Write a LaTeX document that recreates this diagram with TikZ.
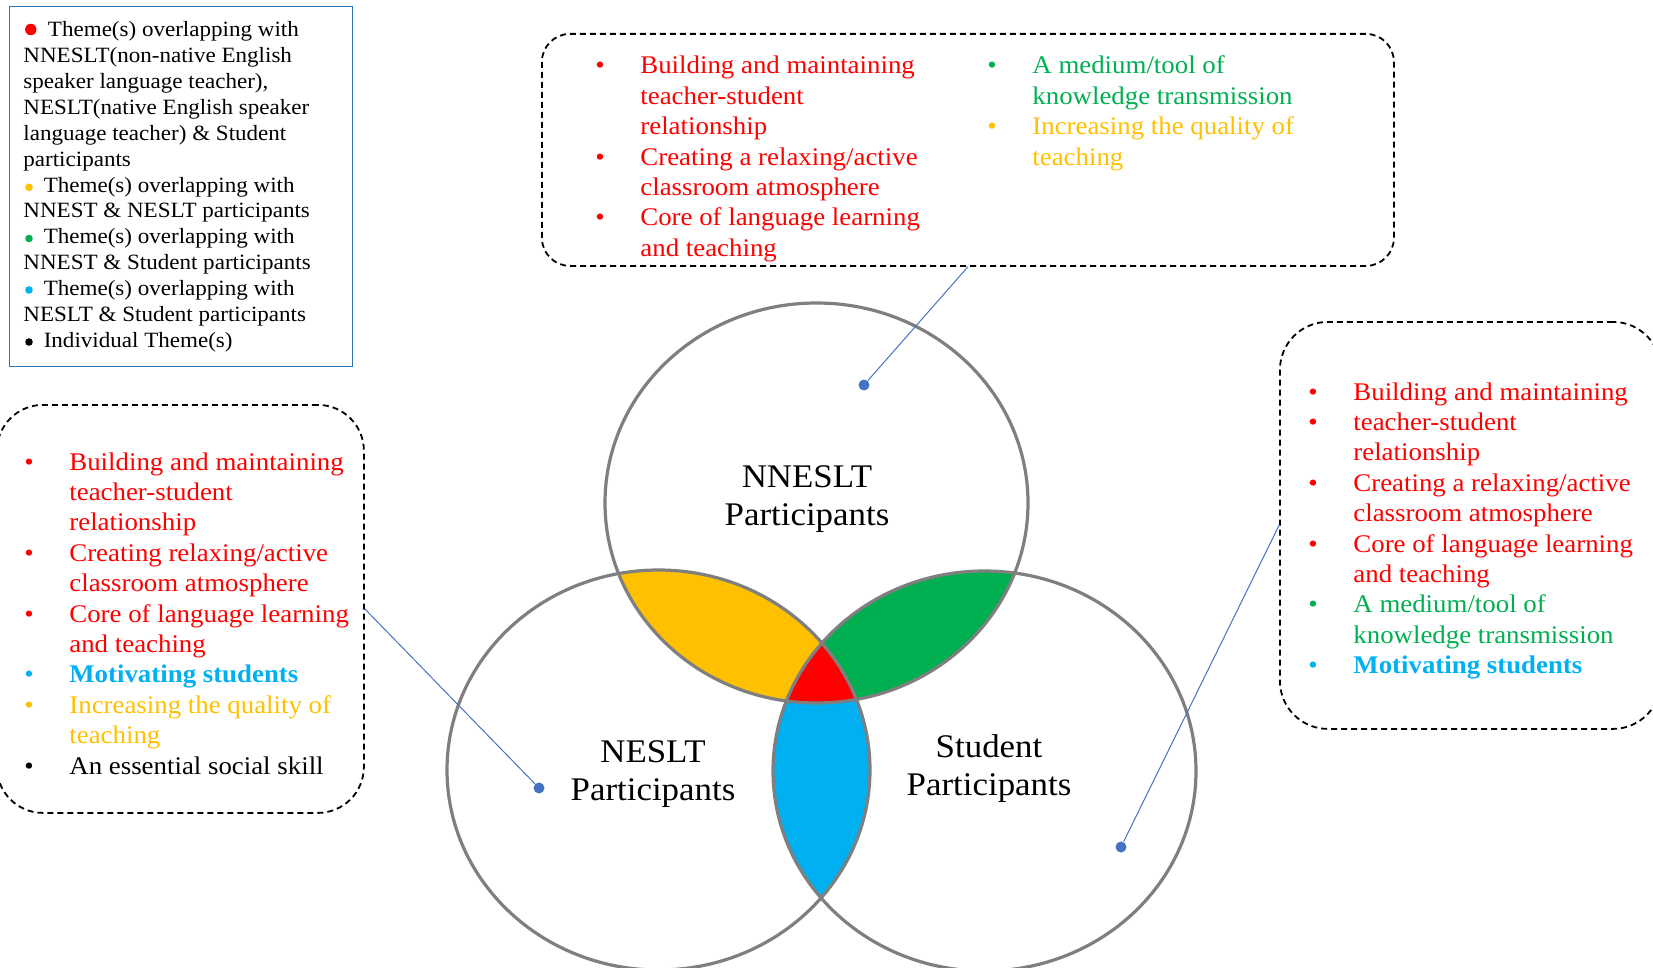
\documentclass[tikz,border=0pt]{standalone}
\usepackage{fontspec}
\setmainfont{Liberation Serif}[FakeStretch=1.057]

\definecolor{venngray}{HTML}{7F7F7F}
\definecolor{vyellow}{HTML}{FFC000}
\definecolor{vgreen}{HTML}{00B050}
\definecolor{vblue}{HTML}{00B0F0}
\definecolor{vred}{HTML}{FF0000}
\definecolor{linkblue}{HTML}{4472C4}
\definecolor{frameblue}{HTML}{2E75B6}

% puces des listes
\newlength\puce
\setlength\puce{22.5pt}
\newcommand\ligne[2]{\makebox[\puce][l]{\color{#1}\textbullet}{\color{#1}#2}}
\newcommand\suite[2]{\hspace*{\puce}{\color{#1}#2}}

\begin{document}
\begin{tikzpicture}[x=0.5pt, y=-0.5pt,
    venn/.style={draw=venngray, line width=1.6pt},
    dashbox/.style={draw, dashed, dash pattern=on 3pt off 2pt, line width=0.9pt, inner sep=0},
    legframe/.style={draw=frameblue, line width=0.7pt, inner sep=0},
    txt/.style={anchor=base west, inner sep=0, font=\fontsize{12.7}{15.2}\selectfont},
    lab/.style={anchor=base, inner sep=0, font=\fontsize{16.5}{19}\selectfont},
    dot/.style={circle, fill=linkblue, inner sep=0, minimum size=5.5pt},
    link/.style={draw=linkblue, line width=0.5pt}]
  % cadre de l'image (en pixels)
  \useasboundingbox (0,0) rectangle (1653,968);
  % les trois cercles (legerement aplatis)
  \def\topE{(816.5,503) ellipse [x radius=211.5, y radius=200]}
  \def\leftE{(658.5,770) ellipse [x radius=211.5, y radius=200]}
  \def\rightE{(984.5,771) ellipse [x radius=211.5, y radius=200]}
  % zones communes
  \begin{scope} \clip \topE; \fill[vyellow] \leftE; \end{scope}
  \begin{scope} \clip \topE; \fill[vgreen] \rightE; \end{scope}
  \begin{scope} \clip \leftE; \fill[vblue] \rightE; \end{scope}
  \begin{scope} \clip \topE; \clip \leftE; \fill[vred] \rightE; \end{scope}
  \draw[venn] \topE;
  \draw[venn] \leftE;
  \draw[venn] \rightE;
  % noms des groupes
  \node[lab] (nnlab) at (807,487) {\begin{tabular}[t]{@{}c@{}}NNESLT\\Participants\end{tabular}};
  \node[lab] (nelab) at (653,762) {\begin{tabular}[t]{@{}c@{}}NESLT\\Participants\end{tabular}};
  \node[lab] (stlab) at (989,757) {\begin{tabular}[t]{@{}c@{}}Student\\Participants\end{tabular}};
  % legende
  \node[legframe, minimum width=171.5pt, minimum height=180pt, anchor=north west] (legende) at (9,6) {};
  \fill[vred] (30.8,29.5) circle (5.7);
  \foreach \c/\y in {vyellow/187.3, vgreen/238.5, vblue/290, black/342}
    \fill[\c] (29,\y) circle (3.8);
  \node[anchor=base west, inner sep=0, font=\fontsize{10.9}{12.95}\selectfont] (legtxt) at (23,36.7)
    {\begin{tabular}[t]{@{}l@{}}
      \hspace*{12.3pt}Theme(s) overlapping with\\
      NNESLT(non-native English\\
      speaker language teacher),\\
      NESLT(native English speaker\\
      language teacher) \& Student\\
      participants\\
      \hspace*{10.2pt}Theme(s) overlapping with\\
      NNEST \& NESLT participants\\
      \hspace*{10.2pt}Theme(s) overlapping with\\
      NNEST \& Student participants\\
      \hspace*{10.2pt}Theme(s) overlapping with\\
      NESLT \& Student participants\\
      \hspace*{10.2pt}Individual Theme(s)
    \end{tabular}};
  % boite du haut (NNESLT)
  \node[dashbox, rounded corners=14pt, minimum width=426pt, minimum height=116pt, anchor=north west] (nnbox) at (541,33) {};
  \node[txt] (nntxta) at (595,74)
    {\begin{tabular}[t]{@{}l@{}}
      \ligne{vred}{Building and maintaining}\\
      \suite{vred}{teacher-student}\\
      \suite{vred}{relationship}\\
      \ligne{vred}{Creating a relaxing/active}\\
      \suite{vred}{classroom atmosphere}\\
      \ligne{vred}{Core of language learning}\\
      \suite{vred}{and teaching}
    \end{tabular}};
  \node[txt] (nntxtb) at (987,74)
    {\begin{tabular}[t]{@{}l@{}}
      \ligne{vgreen}{A medium/tool of}\\
      \suite{vgreen}{knowledge transmission}\\
      \ligne{vyellow}{Increasing the quality of}\\
      \suite{vyellow}{teaching}
    \end{tabular}};
  % boite de gauche (NESLT)
  \node[dashbox, rounded corners=23pt, minimum width=183.5pt, minimum height=204pt, anchor=north west] (nebox) at (-4,404) {};
  \node[txt] (netxt) at (24,470)
    {\begin{tabular}[t]{@{}l@{}}
      \ligne{vred}{Building and maintaining}\\
      \suite{vred}{teacher-student}\\
      \suite{vred}{relationship}\\
      \ligne{vred}{Creating relaxing/active}\\
      \suite{vred}{classroom atmosphere}\\
      \ligne{vred}{Core of language learning}\\
      \suite{vred}{and teaching}\\
      \ligne{vblue}{\textbf{Motivating students}}\\
      \ligne{vyellow}{Increasing the quality of}\\
      \suite{vyellow}{teaching}\\
      \ligne{black}{An essential social skill}
    \end{tabular}};
  % boite de droite (Student)
  \node[dashbox, rounded corners=24pt, minimum width=190.5pt, minimum height=203.5pt, anchor=north west] (stbox) at (1279,321) {};
  \node[txt] (sttxt) at (1308,400)
    {\begin{tabular}[t]{@{}l@{}}
      \ligne{vred}{Building and maintaining}\\
      \ligne{vred}{teacher-student}\\
      \suite{vred}{relationship}\\
      \ligne{vred}{Creating a relaxing/active}\\
      \suite{vred}{classroom atmosphere}\\
      \ligne{vred}{Core of language learning}\\
      \suite{vred}{and teaching}\\
      \ligne{vgreen}{A medium/tool of}\\
      \suite{vgreen}{knowledge transmission}\\
      \ligne{vblue}{\textbf{Motivating students}}
    \end{tabular}};
  % renvois vers les cercles
  \node[dot] (nndot) at (864,385) {};
  \node[dot] (nedot) at (539,788) {};
  \node[dot] (stdot) at (1121,847) {};
  \draw[link] (nnbox.south) -- (nndot);
  \draw[link] (nebox.east) -- (nedot);
  \draw[link] (stbox.west) -- (stdot);
\end{tikzpicture}
\end{document}
